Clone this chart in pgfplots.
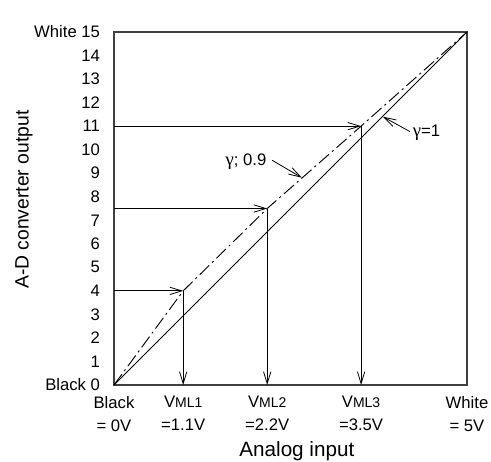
\documentclass[border=0pt]{standalone}
\usepackage{fontspec}
\setmainfont{Liberation Sans}
\newfontfamily\greekfont{Liberation Serif}
\usepackage{pgfplots}
\pgfplotsset{compat=1.18}
\usetikzlibrary{arrows.meta}
\newcommand{\lbl}{\fontsize{12.5}{17}\selectfont}
\newcommand{\sm}[1]{{\fontsize{10.5}{17}\selectfont #1}}
\begin{document}
\begin{tikzpicture}[>={Straight Barb[length=9pt,width=5.5pt]}]
\begin{axis}[
    scale only axis,
    width=264.75pt, height=264.75pt,
    xmin=0, xmax=5, ymin=0, ymax=15,
    clip=false,
    axis line style={black!75, line width=0.8pt},
    major tick length=0pt,
    xtick={0,0.98,2.17,3.5,5},
    xticklabels={Black\\= 0V, V\sm{ML1}\\=1.1V, V\sm{ML2}\\=2.2V, V\sm{ML3}\\=3.5V, White\\= 5V},
    xticklabel style={align=center, font=\lbl, yshift=-5pt},
    ytick={0,1,...,15},
    yticklabels={Black 0,1,2,3,4,5,6,7,8,9,10,11,12,13,14,White 15},
    yticklabel style={font=\lbl, xshift=-7pt},
    xlabel={Analog input},
    ylabel={A-D converter output},
    every axis x label/.style={at={(rel axis cs:0.518,-0.186)}, anchor=center, font=\fontsize{15.5}{18}\selectfont},
    every axis y label/.style={at={(rel axis cs:-0.255,0.525)}, anchor=center, rotate=90, font=\fontsize{14.5}{18}\selectfont},
]
% gamma = 1
\addplot[black, line width=0.7pt] coordinates {(0,0) (5,15)};
% gamma ; 0.9
\addplot[black, line width=0.7pt, dash pattern=on 10pt off 3pt on 1.5pt off 3pt]
    coordinates {(0,0) (0.98,4) (2.17,7.5) (3.5,11) (5,15)};
% reading arrows
\addplot[black, line width=0.6pt, ->] coordinates {(0,4) (0.98,4)};
\addplot[black, line width=0.6pt, ->] coordinates {(0.98,4) (0.98,0)};
\addplot[black, line width=0.6pt, ->] coordinates {(0,7.5) (2.17,7.5)};
\addplot[black, line width=0.6pt, ->] coordinates {(2.17,7.5) (2.17,0)};
\addplot[black, line width=0.6pt, ->] coordinates {(0,11) (3.5,11)};
\addplot[black, line width=0.6pt, ->] coordinates {(3.5,11) (3.5,0)};
% pointers
\addplot[black, line width=0.6pt, ->] coordinates {(2.24,9.55) (2.66,8.81)};
\addplot[black, line width=0.6pt, ->] coordinates {(4.19,10.77) (3.81,11.4)};
\node[anchor=east, font=\lbl, inner sep=1pt] at (axis cs:2.18,9.5) {{\greekfont\fontsize{14}{17}\selectfont γ}; 0.9};
\node[anchor=west, font=\lbl, inner sep=1pt] at (axis cs:4.21,10.72) {{\greekfont\fontsize{14}{17}\selectfont γ}=1};
\end{axis}
\pgfresetboundingbox
\path[use as bounding box] (-85.5pt,-57pt) rectangle (282.75pt,288.75pt);
\end{tikzpicture}
\end{document}
